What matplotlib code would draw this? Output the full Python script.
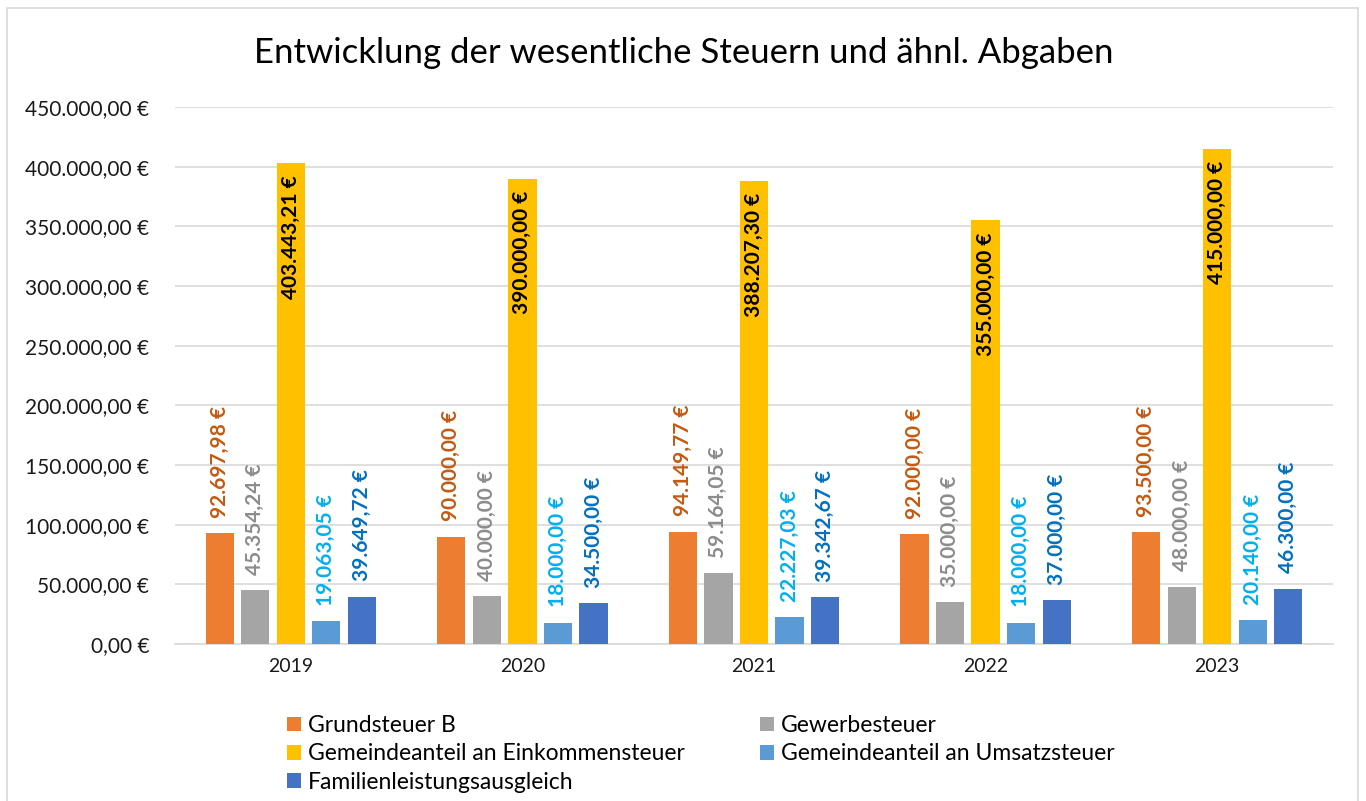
import matplotlib
matplotlib.use("Agg")
import matplotlib.pyplot as plt
from matplotlib.patches import Rectangle
import numpy as np

years = ["2019", "2020", "2021", "2022", "2023"]
series_names = ["Grundsteuer B", "Gewerbesteuer", "Gemeindeanteil an Einkommensteuer",
                "Gemeindeanteil an Umsatzsteuer", "Familienleistungsausgleich"]
grundsteuer_b = [92697.98, 90000.00, 94149.77, 92000.00, 93500.00]
gewerbesteuer = [45354.24, 40000.00, 59164.05, 35000.00, 48000.00]
einkommensteuer = [403443.21, 390000.00, 388207.30, 355000.00, 415000.00]
umsatzsteuer = [19063.05, 18000.00, 22227.03, 18000.00, 20140.00]
familienleistung = [39649.72, 34500.00, 39342.67, 37000.00, 46300.00]
y_ticks = [0, 50000, 100000, 150000, 200000, 250000, 300000, 350000, 400000, 450000]

series = [grundsteuer_b, gewerbesteuer, einkommensteuer, umsatzsteuer, familienleistung]
bar_colors = ["#ED7D31", "#A5A5A5", "#FFC000", "#5B9BD5", "#4472C4"]
label_colors = ["#C55A11", "#8C8C8C", "#000000", "#00B0F0", "#0070C0"]

plt.rcParams['font.family'] = ['Lato', 'DejaVu Sans']

def fmt(v):
    s = f"{v:,.2f}"
    s = s.replace(",", "X").replace(".", ",").replace("X", ".")
    return s + " €"

fig = plt.figure(figsize=(13.66, 8.01), dpi=100)
fig.patches.append(Rectangle((7/1366, -0.01), (1358-7)/1366, 1 - 8/801 + 0.01,
                             transform=fig.transFigure, fill=False,
                             edgecolor="#D9D9D9", linewidth=1.2))
ax = fig.add_axes([175/1366, 1-644/801, (1333-175)/1366, (644-107)/801])

x = np.arange(len(years))
spacing = 0.1535
width = 0.122
for i, (vals, name) in enumerate(zip(series, series_names)):
    pos = x + (i - 2) * spacing
    ax.bar(pos, vals, width, color=bar_colors[i], label=name, zorder=3)
    for p, v in zip(pos, vals):
        if i == 2:
            ax.annotate(fmt(v), (p, v), xytext=(0, -9), textcoords="offset points",
                        rotation=90, ha="center", va="top", fontsize=15,
                        fontweight="bold", color=label_colors[i], zorder=4)
        else:
            ax.annotate(fmt(v), (p, v), xytext=(0, 11), textcoords="offset points",
                        rotation=90, ha="center", va="bottom", fontsize=15,
                        fontweight="bold", color=label_colors[i], zorder=4)

ax.set_ylim(0, 450000)
ax.set_xlim(-0.5, len(years) - 0.5)
ax.set_yticks(y_ticks)
ax.set_yticklabels([fmt(t) for t in y_ticks], fontsize=15, color="#1a1a1a")
ax.set_xticks(x)
ax.set_xticklabels(years, fontsize=14, color="#1a1a1a")
ax.tick_params(axis="both", length=0)
ax.tick_params(axis="y", pad=18.5)
ax.tick_params(axis="x", pad=10)
ax.grid(axis="y", color="#D9D9D9", linewidth=1.2, zorder=0)
for s in ["top", "right", "left"]:
    ax.spines[s].set_visible(False)
ax.spines["bottom"].set_color("#D9D9D9")
ax.spines["bottom"].set_linewidth(1.2)

fig.text(684/1366, 1 - 53/801, "Entwicklung der wesentliche Steuern und ähnl. Abgaben",
         ha="center", va="center", fontsize=25, color="#000000")

handles, labels = ax.get_legend_handles_labels()
order = [0, 2, 4, 1, 3]
leg = fig.legend([handles[k] for k in order], [labels[k] for k in order],
                 loc="upper left", bbox_to_anchor=(278/1366, 1 - 706/801),
                 ncol=2, frameon=False, fontsize=16.5, handlelength=0.6, handleheight=0.6,
                 handletextpad=0.3, columnspacing=3.3, labelspacing=0.32, borderaxespad=0)
for t in leg.get_texts():
    t.set_color("#000000")

fig.savefig("out.png", dpi=100)
